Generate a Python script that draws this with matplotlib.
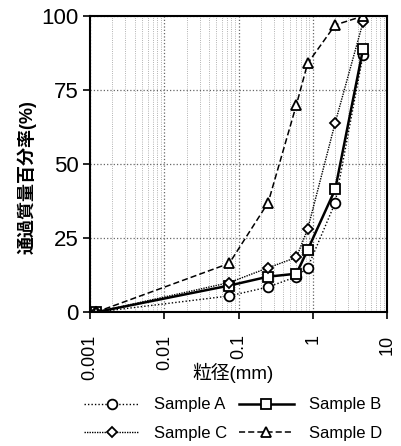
import matplotlib.pyplot as plt
import numpy as np

plt.rcParams['font.family'] = ['Liberation Sans', 'Noto Sans CJK JP', 'DejaVu Sans']

# sieve sizes (mm) and percent passing
sizes = [0.0012, 0.075, 0.25, 0.6, 0.85, 2.0, 4.75]
sample_a = [0, 5.5, 8.5, 12, 15, 37, 87]
sample_b = [0, 9, 12, 13, 21, 41.5, 89]
sample_c = [0, 10, 15, 18.5, 28, 64, 98]
sample_d = [0, 16.5, 37, 70, 84, 97, 100]

xticks = [0.001, 0.01, 0.1, 1, 10]
xticklabels = ['0.001', '0.01', '0.1', '1', '10']
yticks = [0, 25, 50, 75, 100]

fig = plt.figure(figsize=(4.02, 4.46), dpi=100)
ax = fig.add_axes([0.224, 0.300, 0.739, 0.664])

la, = ax.plot(sizes, sample_a, linestyle=(0, (1, 1.5)), color='black', lw=1.0,
              marker='o', ms=7, mfc='white', mec='black', mew=1.3)
lb, = ax.plot(sizes, sample_b, linestyle='-', color='black', lw=1.8,
              marker='s', ms=7.5, mfc='white', mec='black', mew=1.3)
lc, = ax.plot(sizes, sample_c, linestyle=(0, (1, 0.8)), color='black', lw=1.0,
              marker='D', ms=5.5, mfc='white', mec='black', mew=1.3)
ld, = ax.plot(sizes, sample_d, linestyle=(0, (4, 2)), color='black', lw=1.1,
              marker='^', ms=7.5, mfc='white', mec='black', mew=1.3)

ax.set_xscale('log')
ax.set_xlim(0.001, 10)
ax.set_ylim(0, 100)
ax.set_xticks(xticks)
ax.set_xticklabels(xticklabels, rotation=90, fontsize=13)
ax.set_yticks(yticks)
ax.set_yticklabels([str(v) for v in yticks], fontsize=16)
ax.tick_params(which='major', direction='out', length=5, width=1.2)
ax.tick_params(axis='x', which='major', pad=11)
ax.tick_params(axis='y', which='major', pad=3)
ax.tick_params(which='minor', length=0)

ax.grid(True, which='major', linestyle=':', color='#666666', lw=0.9)
ax.grid(True, which='minor', axis='x', linestyle=':', color='#999999', lw=0.6)

for s in ax.spines.values():
    s.set_linewidth(1.5)

ax.set_xlabel('粒径(mm)', fontsize=13.5)
ax.xaxis.set_label_coords(0.48, -0.172)
ax.set_ylabel('通過質量百分率(%)', fontsize=13, fontweight='bold')
ax.yaxis.set_label_coords(-0.178, 0.456)

# row-wise legend: A B / C D
fig.legend([la, lc, lb, ld], ['Sample A', 'Sample C', 'Sample B', 'Sample D'],
           loc='upper center', bbox_to_anchor=(0.58, 0.135), ncol=2,
           frameon=False, fontsize=12, handlelength=3.3, columnspacing=0.7,
           handletextpad=0.9, labelspacing=0.8, borderpad=0.2)

fig.savefig('out.png', dpi=100)
